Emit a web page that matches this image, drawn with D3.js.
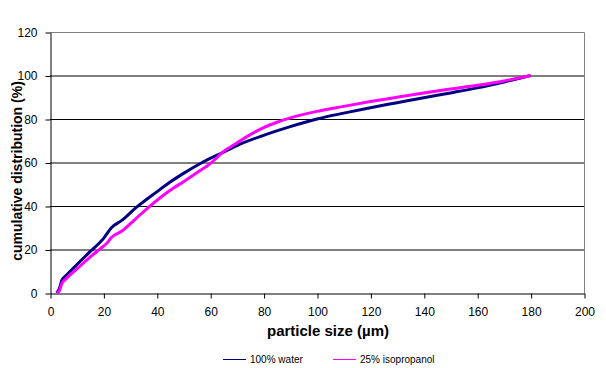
<!DOCTYPE html>
<html><head><meta charset="utf-8">
<script src="https://cdn.jsdelivr.net/npm/d3@7"></script>
<style>body{margin:0;background:#fff}svg{display:block}</style>
</head><body>
<svg id="c" width="606" height="368"></svg>
<script>
const seriesNames = ["100% water", "25% isopropanol"];
const seriesColors = ["#000080", "#FF00FF"];
const waterX = [2.5,3.5,4.5,6,10,15,20,23,27,32,40,45,50,57,65,70,80,90,100,110,120,130,140,150,160,170,180];
const waterY = [0,2,6,8,13,19,25,30,33.5,39,46.5,51,55,60,64.8,67.8,72.5,76.5,80,82.7,85.2,87.5,89.8,92,94.3,97,100];
const isoX = [2.5,3.5,4.5,6,10,15,19,21,23,27,32,37,42,46,50,55,60,65,70,75,80,85,90,100,110,120,130,140,150,160,170,180];
const isoY = [0,1,4.5,6.5,11,16.5,20.5,22.5,25.5,28.5,34,39.5,44.5,48,51.2,55.3,59.5,65,69,72.8,76,78.5,80.5,83.5,85.8,88,90,92,93.8,95.5,97.5,100];
const xTicks = [0,20,40,60,80,100,120,140,160,180,200];
const yTicks = [0,20,40,60,80,100,120];
const xTitle = "particle size (µm)";
const yTitle = "cumulative distribution (%)";

const svg = d3.select("#c");
const L = 50, R = 584, T = 32, B = 293;
const x = d3.scaleLinear().domain([0,200]).range([L,R]);
const y = d3.scaleLinear().domain([0,120]).range([B,T]);
const font = "Liberation Sans, Arial, sans-serif";

// gridlines
svg.append("g").selectAll("line").data(yTicks.filter(d => d > 0 && d < 120)).join("line")
  .attr("x1", L).attr("x2", R).attr("y1", d => y(d)+0.5).attr("y2", d => y(d)+0.5)
  .attr("stroke", "#000").attr("stroke-width", 1);
// top & right border
svg.append("path").attr("d", `M${L},${T+0.5}H${R+0.5}V${B}`).attr("fill","none").attr("stroke","#808080");

// axes
const yAxis = d3.axisLeft(y).tickValues(yTicks).tickSize(5).tickPadding(8).tickSizeOuter(0);
const gy = svg.append("g").attr("transform", `translate(${L+0.5},0.5)`).call(yAxis);
const xAxis = d3.axisBottom(x).tickValues(xTicks).tickSize(5).tickPadding(9).tickSizeOuter(0);
const gx = svg.append("g").attr("transform", `translate(0.5,${B+0.5})`).call(xAxis);
[gx, gy].forEach(g => {
  g.selectAll("text").attr("font-family", font).attr("font-size", 12).attr("fill", "#000");
  g.selectAll("line,path").attr("stroke", "#000");
});

// lines
const line = d3.line().x(d => x(d[0])).y(d => y(d[1])).curve(d3.curveMonotoneX);
const data = [d3.zip(waterX, waterY), d3.zip(isoX, isoY)];
svg.append("g").selectAll("path").data(data).join("path")
  .attr("d", line).attr("fill", "none")
  .attr("stroke", (d,i) => seriesColors[i]).attr("stroke-width", 3)
  .attr("stroke-linejoin", "round");

// titles
svg.append("text").attr("x", 328).attr("y", 336).attr("text-anchor", "middle")
  .attr("font-family", font).attr("font-weight", "bold").attr("font-size", 15).text(xTitle);
svg.append("text").attr("transform", "translate(22,171) rotate(-90)").attr("text-anchor", "middle")
  .attr("font-family", font).attr("font-weight", "bold").attr("font-size", 14).text(yTitle);

// legend
const legX = [223, 333];
const lg = svg.append("g").selectAll("g").data(seriesNames).join("g")
  .attr("transform", (d,i) => `translate(${legX[i]},359)`);
lg.append("line").attr("x1", 0).attr("x2", 23).attr("y1", 0.5).attr("y2", 0.5)
  .attr("stroke", (d,i) => seriesColors[i]).attr("stroke-width", 1);
lg.append("text").attr("x", 27).attr("y", 4).attr("font-family", font).attr("font-size", 10).text(d => d);
</script>
</body></html>
